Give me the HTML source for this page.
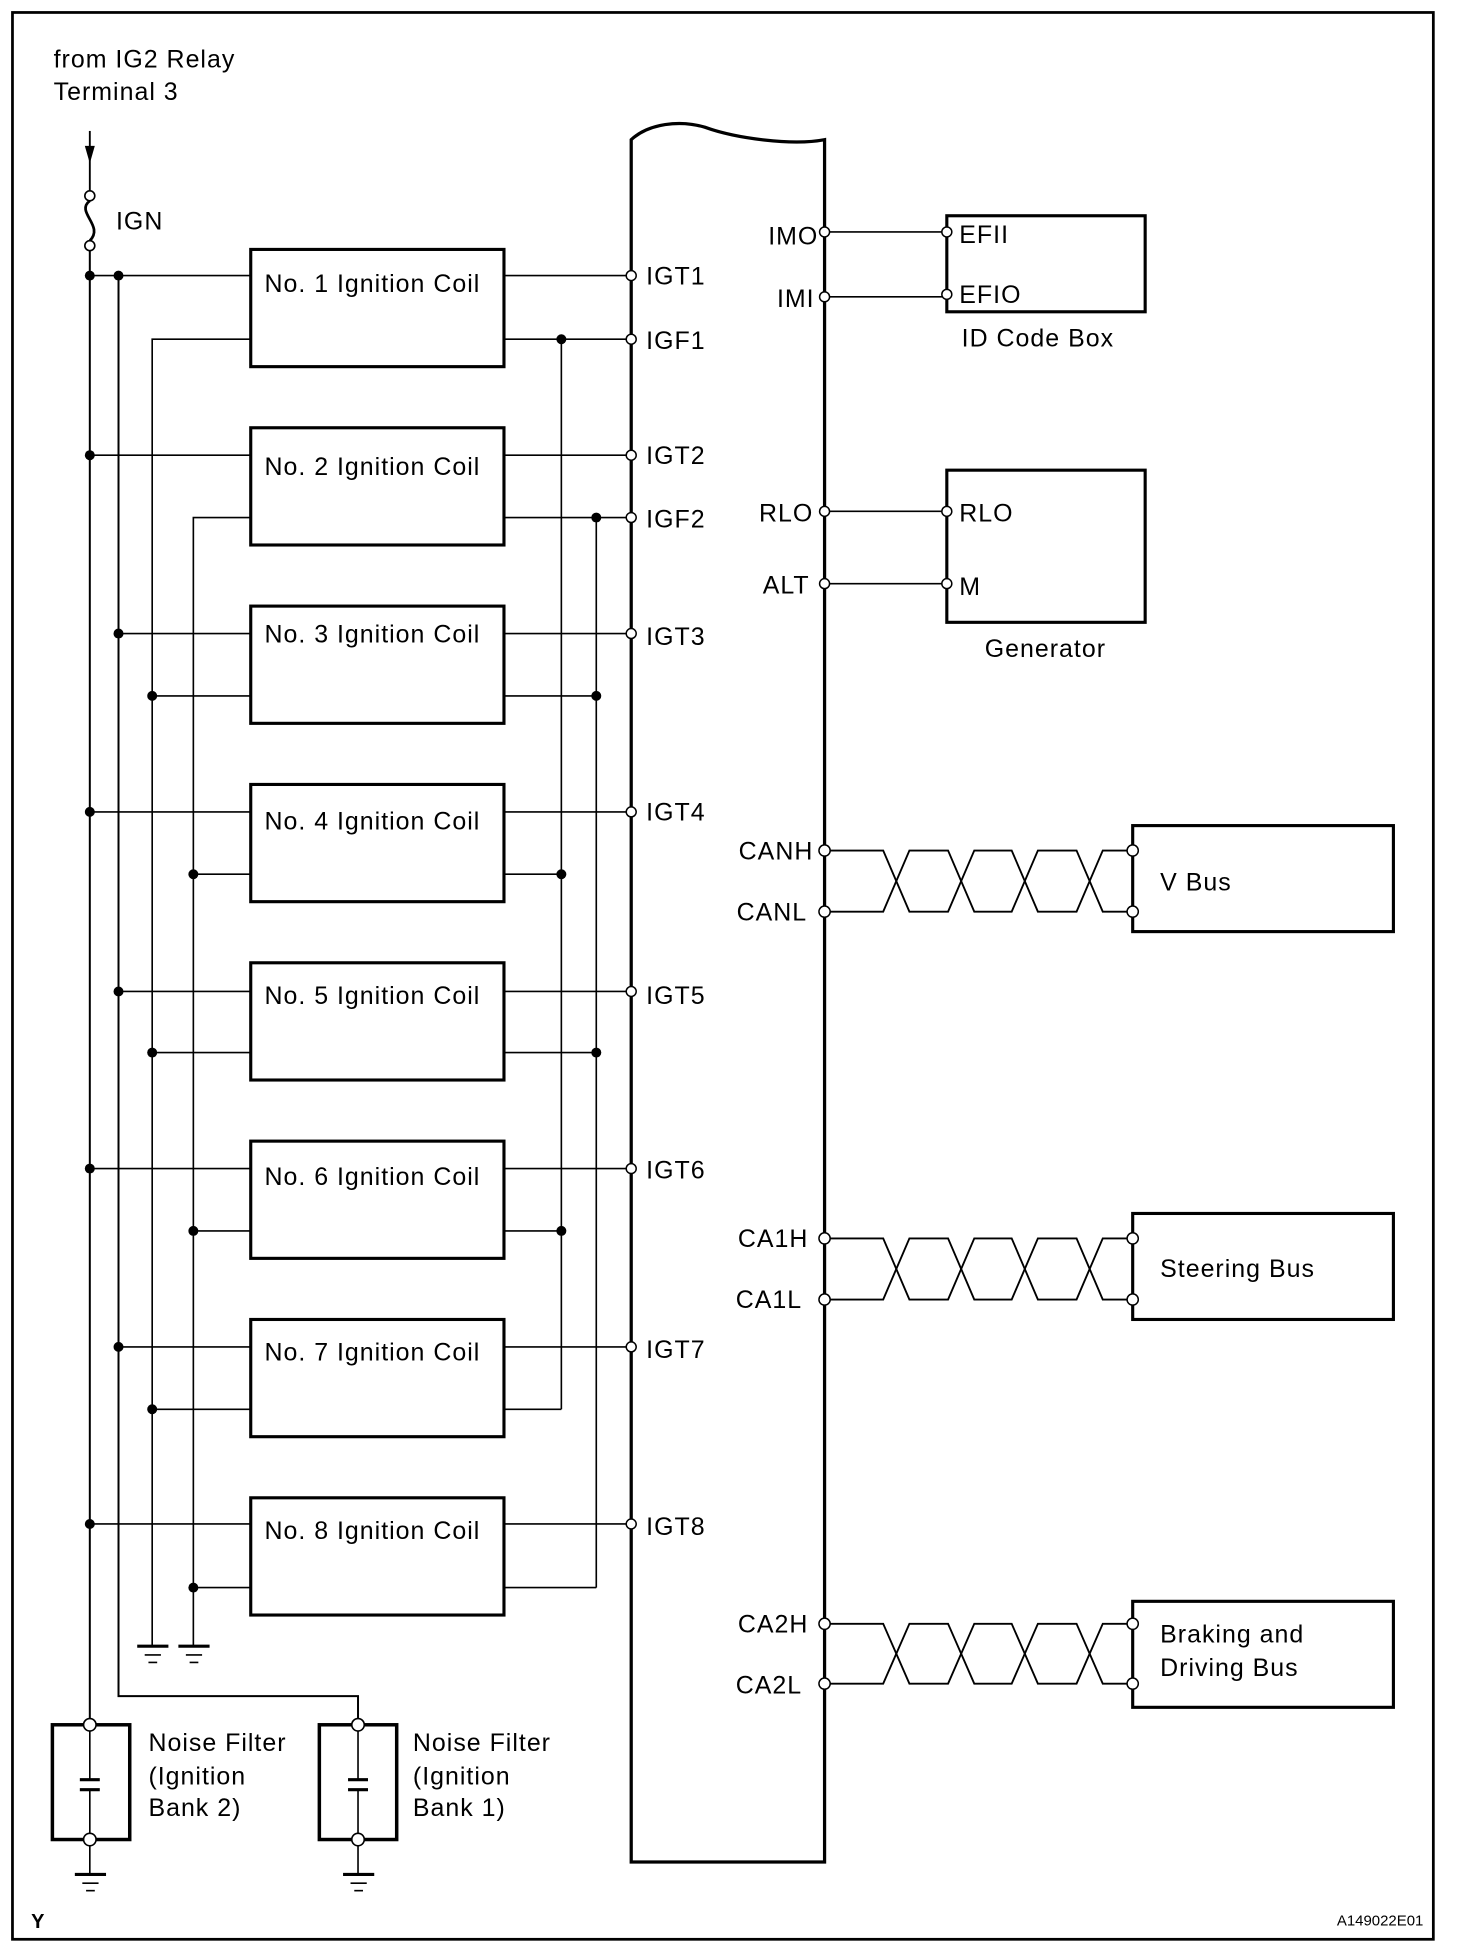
<!DOCTYPE html>
<html><head><meta charset="utf-8"><style>
html,body{margin:0;padding:0;background:#fff;}
svg{display:block;}
text{font-family:"Liberation Sans",Arial,sans-serif;fill:#000;}
.t{letter-spacing:0.8px;}
</style></head><body>
<svg width="1472" height="1958" viewBox="0 0 1180 1570" preserveAspectRatio="none" xmlns="http://www.w3.org/2000/svg">
<rect x="10" y="10" width="1139" height="1545" fill="none" stroke="#000" stroke-width="2.2"/>
<g font-size="20" class="t">
<text x="43" y="54">from IG2 Relay</text>
<text x="43" y="80">Terminal 3</text>
<text x="93" y="184">IGN</text>
</g>
<!-- arrow & fuse -->
<g stroke="#000" fill="none" stroke-width="1.5">
<line x1="72" y1="105" x2="72" y2="153"/>
<path d="M72,161 C60,170 84,181 72,193" stroke-width="2.2"/>
</g>
<polygon points="68,117 76,117 72,131" fill="#000"/>
<circle cx="72" cy="157" r="4" fill="#fff" stroke="#000" stroke-width="1.3"/>
<circle cx="72" cy="197" r="4" fill="#fff" stroke="#000" stroke-width="1.3"/>
<!-- buses -->
<g stroke="#000" fill="none" stroke-width="1.6">
<line x1="72" y1="201" x2="72" y2="1379"/>
<polyline points="95,221 95,1360 287,1360 287,1379"/>
</g>
<g stroke="#000" fill="none" stroke-width="1.3">
<polyline points="201,272 122,272 122,1320"/>
<polyline points="201,415 155,415 155,1320"/>
<line x1="450" y1="272" x2="450" y2="1130"/>
<line x1="478" y1="415" x2="478" y2="1273"/>
<line x1="72" y1="221" x2="201" y2="221"/><line x1="404" y1="221" x2="506" y2="221"/>
<line x1="72" y1="365" x2="201" y2="365"/><line x1="404" y1="365" x2="506" y2="365"/>
<line x1="95" y1="508" x2="201" y2="508"/><line x1="404" y1="508" x2="506" y2="508"/>
<line x1="72" y1="651" x2="201" y2="651"/><line x1="404" y1="651" x2="506" y2="651"/>
<line x1="95" y1="795" x2="201" y2="795"/><line x1="404" y1="795" x2="506" y2="795"/>
<line x1="72" y1="937" x2="201" y2="937"/><line x1="404" y1="937" x2="506" y2="937"/>
<line x1="95" y1="1080" x2="201" y2="1080"/><line x1="404" y1="1080" x2="506" y2="1080"/>
<line x1="72" y1="1222" x2="201" y2="1222"/><line x1="404" y1="1222" x2="506" y2="1222"/>
<line x1="404" y1="272" x2="506" y2="272"/>
<line x1="404" y1="415" x2="506" y2="415"/>
<line x1="122" y1="558" x2="201" y2="558"/><line x1="404" y1="558" x2="478" y2="558"/>
<line x1="155" y1="701" x2="201" y2="701"/><line x1="404" y1="701" x2="450" y2="701"/>
<line x1="122" y1="844" x2="201" y2="844"/><line x1="404" y1="844" x2="478" y2="844"/>
<line x1="155" y1="987" x2="201" y2="987"/><line x1="404" y1="987" x2="450" y2="987"/>
<line x1="122" y1="1130" x2="201" y2="1130"/><line x1="404" y1="1130" x2="450" y2="1130"/>
<line x1="155" y1="1273" x2="201" y2="1273"/><line x1="404" y1="1273" x2="478" y2="1273"/>
</g>
<g fill="#000">
<circle cx="72" cy="221" r="4"/><circle cx="95" cy="221" r="4"/>
<circle cx="72" cy="365" r="4"/><circle cx="95" cy="508" r="4"/>
<circle cx="72" cy="651" r="4"/><circle cx="95" cy="795" r="4"/>
<circle cx="72" cy="937" r="4"/><circle cx="95" cy="1080" r="4"/>
<circle cx="72" cy="1222" r="4"/>
<circle cx="122" cy="558" r="4"/><circle cx="155" cy="701" r="4"/>
<circle cx="122" cy="844" r="4"/><circle cx="155" cy="987" r="4"/>
<circle cx="122" cy="1130" r="4"/><circle cx="155" cy="1273" r="4"/>
<circle cx="450" cy="272" r="4"/><circle cx="478" cy="415" r="4"/>
<circle cx="478" cy="558" r="4"/><circle cx="450" cy="701" r="4"/>
<circle cx="478" cy="844" r="4"/><circle cx="450" cy="987" r="4"/>
</g>
<g fill="#fff" stroke="#000" stroke-width="2.5">
<rect x="201" y="200" width="203" height="94"/>
<rect x="201" y="343" width="203" height="94"/>
<rect x="201" y="486" width="203" height="94"/>
<rect x="201" y="629" width="203" height="94"/>
<rect x="201" y="772" width="203" height="94"/>
<rect x="201" y="915" width="203" height="94"/>
<rect x="201" y="1058" width="203" height="94"/>
<rect x="201" y="1201" width="203" height="94"/>
</g>
<g font-size="20" class="t">
<text x="212" y="234">No. 1 Ignition Coil</text>
<text x="212" y="381">No. 2 Ignition Coil</text>
<text x="212" y="515">No. 3 Ignition Coil</text>
<text x="212" y="665">No. 4 Ignition Coil</text>
<text x="212" y="805">No. 5 Ignition Coil</text>
<text x="212" y="950">No. 6 Ignition Coil</text>
<text x="212" y="1091">No. 7 Ignition Coil</text>
<text x="212" y="1234">No. 8 Ignition Coil</text>
</g>
<g stroke="#000" stroke-width="1.3">
<line x1="110" y1="1320" x2="135" y2="1320" stroke-width="2.5"/><line x1="116" y1="1327" x2="129" y2="1327"/><line x1="119" y1="1333" x2="126" y2="1333"/>
<line x1="143" y1="1320" x2="168" y2="1320" stroke-width="2.5"/><line x1="149" y1="1327" x2="162" y2="1327"/><line x1="152" y1="1333" x2="159" y2="1333"/>
</g>
<g stroke="#000" fill="none">
<rect x="42" y="1383" width="62" height="92" stroke-width="2.8"/>
<rect x="256" y="1383" width="62" height="92" stroke-width="2.8"/>
<line x1="72" y1="1383" x2="72" y2="1427" stroke-width="1.3"/><line x1="72" y1="1435" x2="72" y2="1503" stroke-width="1.3"/>
<line x1="287" y1="1383" x2="287" y2="1427" stroke-width="1.3"/><line x1="287" y1="1435" x2="287" y2="1503" stroke-width="1.3"/>
<line x1="64" y1="1427" x2="80" y2="1427" stroke-width="2.5"/><line x1="64" y1="1435" x2="80" y2="1435" stroke-width="2.5"/>
<line x1="279" y1="1427" x2="295" y2="1427" stroke-width="2.5"/><line x1="279" y1="1435" x2="295" y2="1435" stroke-width="2.5"/>
<line x1="60" y1="1503" x2="85" y2="1503" stroke-width="2.5"/><line x1="66" y1="1510" x2="79" y2="1510" stroke-width="1.3"/><line x1="69" y1="1516" x2="76" y2="1516" stroke-width="1.3"/>
<line x1="275" y1="1503" x2="300" y2="1503" stroke-width="2.5"/><line x1="281" y1="1510" x2="294" y2="1510" stroke-width="1.3"/><line x1="284" y1="1516" x2="291" y2="1516" stroke-width="1.3"/>
</g>
<g fill="#fff" stroke="#000" stroke-width="1.3">
<circle cx="72" cy="1383" r="5"/><circle cx="72" cy="1475" r="5"/>
<circle cx="287" cy="1383" r="5"/><circle cx="287" cy="1475" r="5"/>
</g>
<g font-size="20" class="t">
<text x="119" y="1404">Noise Filter</text><text x="119" y="1431">(Ignition</text><text x="119" y="1456">Bank 2)</text>
<text x="331" y="1404">Noise Filter</text><text x="331" y="1431">(Ignition</text><text x="331" y="1456">Bank 1)</text>
</g>
<text x="25" y="1546" font-size="16" font-weight="bold">Y</text>
<text x="1141" y="1544" font-size="12" text-anchor="end">A149022E01</text>
<path d="M506,1493 L506,112 C520,99 545,96 565,102 C590,111 635,117 661,112 L661,1493 Z" fill="none" stroke="#000" stroke-width="2.6"/>
<g stroke="#000" fill="none" stroke-width="1.3">
<line x1="661" y1="186" x2="759" y2="186"/>
<line x1="661" y1="238" x2="759" y2="238"/>
<line x1="661" y1="410" x2="759" y2="410"/>
<line x1="661" y1="468" x2="759" y2="468"/>
</g>
<g stroke="#000" fill="none" stroke-width="1.5">
<path d="M661,682 L708,682 L729,731 L760,731 L781,682 L811,682 L832,731 L863,731 L884,682 L908,682"/>
<path d="M661,731 L708,731 L729,682 L760,682 L781,731 L811,731 L832,682 L863,682 L884,731 L908,731"/>
<path d="M661,993 L708,993 L729,1042 L760,1042 L781,993 L811,993 L832,1042 L863,1042 L884,993 L908,993"/>
<path d="M661,1042 L708,1042 L729,993 L760,993 L781,1042 L811,1042 L832,993 L863,993 L884,1042 L908,1042"/>
<path d="M661,1302 L708,1302 L729,1350 L760,1350 L781,1302 L811,1302 L832,1350 L863,1350 L884,1302 L908,1302"/>
<path d="M661,1350 L708,1350 L729,1302 L760,1302 L781,1350 L811,1350 L832,1302 L863,1302 L884,1350 L908,1350"/>
</g>
<g fill="#fff" stroke="#000" stroke-width="2.5">
<rect x="759" y="173" width="159" height="77"/>
<rect x="759" y="377" width="159" height="122"/>
<rect x="908" y="662" width="209" height="85"/>
<rect x="908" y="973" width="209" height="85"/>
<rect x="908" y="1284" width="209" height="85"/>
</g>
<g fill="#fff" stroke="#000" stroke-width="1.2">
<circle cx="506" cy="221" r="4"/><circle cx="506" cy="272" r="4"/>
<circle cx="506" cy="365" r="4"/><circle cx="506" cy="415" r="4"/>
<circle cx="506" cy="508" r="4"/><circle cx="506" cy="651" r="4"/>
<circle cx="506" cy="795" r="4"/><circle cx="506" cy="937" r="4"/>
<circle cx="506" cy="1080" r="4"/><circle cx="506" cy="1222" r="4"/>
<circle cx="661" cy="186" r="4"/><circle cx="661" cy="238" r="4"/>
<circle cx="661" cy="410" r="4"/><circle cx="661" cy="468" r="4"/>
<circle cx="661" cy="682" r="4.5"/><circle cx="661" cy="731" r="4.5"/>
<circle cx="661" cy="993" r="4.5"/><circle cx="661" cy="1042" r="4.5"/>
<circle cx="661" cy="1302" r="4.5"/><circle cx="661" cy="1350" r="4.5"/>
<circle cx="759" cy="186" r="4"/><circle cx="759" cy="236" r="4"/>
<circle cx="759" cy="410" r="4"/><circle cx="759" cy="468" r="4"/>
<circle cx="908" cy="682" r="4.5"/><circle cx="908" cy="731" r="4.5"/>
<circle cx="908" cy="993" r="4.5"/><circle cx="908" cy="1042" r="4.5"/>
<circle cx="908" cy="1302" r="4.5"/><circle cx="908" cy="1350" r="4.5"/>
</g>
<g font-size="20" class="t">
<text x="518" y="228">IGT1</text><text x="518" y="280">IGF1</text>
<text x="518" y="372">IGT2</text><text x="518" y="423">IGF2</text>
<text x="518" y="517">IGT3</text><text x="518" y="658">IGT4</text>
<text x="518" y="805">IGT5</text><text x="518" y="945">IGT6</text>
<text x="518" y="1089">IGT7</text><text x="518" y="1231">IGT8</text>
</g>
<g font-size="20" text-anchor="end" class="t">
<text x="656" y="196">IMO</text><text x="653" y="246">IMI</text>
<text x="652" y="418">RLO</text><text x="649" y="476">ALT</text>
<text x="652" y="689">CANH</text><text x="647" y="738">CANL</text>
<text x="648" y="1000">CA1H</text><text x="643" y="1049">CA1L</text>
<text x="648" y="1309">CA2H</text><text x="643" y="1358">CA2L</text>
</g>
<g font-size="20" class="t">
<text x="769" y="195">EFII</text><text x="769" y="243">EFIO</text>
<text x="832" y="278" text-anchor="middle">ID Code Box</text>
<text x="769" y="418">RLO</text><text x="769" y="477">M</text>
<text x="838" y="527" text-anchor="middle">Generator</text>
<text x="930" y="714">V Bus</text>
<text x="930" y="1024">Steering Bus</text>
<text x="930" y="1317">Braking and</text>
<text x="930" y="1344">Driving Bus</text>
</g>
</svg>
</body></html>
